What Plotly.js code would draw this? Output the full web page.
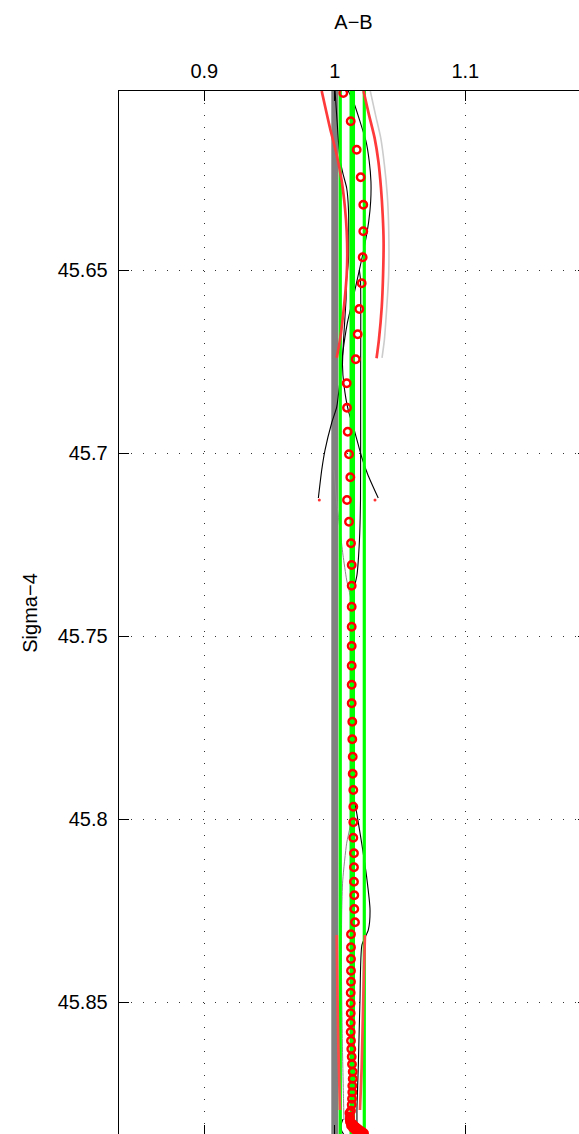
<!DOCTYPE html>
<html>
<head>
<meta charset="utf-8">
<script src="https://cdn.plot.ly/plotly-3.0.1.min.js"></script>
<style>
html,body{margin:0;padding:0;overflow:hidden;background:#fff;}
#chart{width:628px;height:1175px;}
</style>
</head>
<body>
<div id="chart"></div>
<script>
// ---- data ----
var xTickVals = [0.9, 1, 1.1];
var xTickText = ['0.9', '1', '1.1'];
var yTickVals = [45.65, 45.7, 45.75, 45.8, 45.85];
var yTickText = ['45.65', '45.7', '45.75', '45.8', '45.85'];
var xRange = [0.83464, 1.19403];
var yRange = [45.88634, 45.60109];

var refX = 1.0;              // gray reference line
var bandMean = 1.0134;       // thick green
var bandLow = 1.0042;        // thin green
var bandHigh = 1.0226;       // thin green

// red open circles
var obsX = [1.00651,1.01218,1.01678,1.01985,1.02184,1.02184,1.02138,1.02061,1.01877,1.01755,
  1.01602,1.00912,1.00935,1.00989,1.01088,1.01188,1.00935,1.01088,1.01241,1.01295,
  1.01295,1.01295,1.01295,1.01295,1.01295,1.01295,1.01295,1.01341,1.01341,1.01372,
  1.01372,1.01418,1.01418,1.01418,1.01418,1.01471,1.01471,1.01471,1.01494,1.01494,
  1.01548,1.01241,1.01241,1.01241,1.01241,1.01241,1.01218,1.01218,1.01218,1.01218,
  1.01218,1.01241,1.01264,1.01295,1.01318,1.01372,1.01372,1.01341,1.01341,1.01318,
  1.01295,1.01241,1.01165,1.01165,1.01241,1.01395,1.01586,1.01778,1.01969,1.02161,
  1.01126,1.01149,1.01203,1.01318,1.01433,1.01548,1.01663,1.01778,1.01893,1.02008,1.02123,1.02238];
var obsY = [45.60164,45.60937,45.61713,45.62467,45.63216,45.63943,45.64653,45.65363,45.66066,45.66757,
  45.67440,45.68096,45.68762,45.69418,45.70036,45.70664,45.71284,45.71877,45.72467,45.73060,
  45.73626,45.74199,45.74746,45.75273,45.75811,45.76330,45.76839,45.77342,45.77822,45.78298,
  45.78762,45.79208,45.79664,45.80090,45.80511,45.80937,45.81320,45.81713,45.82085,45.82459,
  45.82822,45.83150,45.83505,45.83825,45.84145,45.84445,45.84746,45.85035,45.85309,45.85566,
  45.85820,45.86057,45.86284,45.86495,45.86702,45.86904,45.87096,45.87287,45.87467,45.87642,
  45.87806,45.87970,45.88134,45.88270,45.88374,45.88443,45.88497,45.88538,45.88566,45.88593,
  45.88033,45.88197,45.88265,45.88320,45.88361,45.88402,45.88437,45.88470,45.88503,45.88530,45.88557,45.88585];

// red lines, upper profile
var redUpLeftX = [0.98996,0.99632,1.00146,1.00529,1.00782,1.00912,1.00958,1.00912,1.00705,1.00398,1.00146];
var redUpLeftY = [45.6011,45.6112,45.6185,45.6257,45.6331,45.6393,45.6458,45.6513,45.6600,45.6691,45.6740];
var redUpRightX = [1.0220,1.0262,1.0305,1.0334,1.0354,1.0367,1.0374,1.0370,1.0360,1.0338,1.0320];
var redUpRightY = [45.6011,45.6076,45.6139,45.6203,45.6276,45.6349,45.6422,45.6513,45.6600,45.6691,45.6741];
// light gray, upper profile
var lgUpRightX = [1.0272,1.0312,1.0352,1.0380,1.0402,1.0413,1.0413,1.0397,1.0380,1.0362];
var lgUpRightY = [45.6011,45.6076,45.6139,45.6212,45.6294,45.6385,45.6513,45.6609,45.6691,45.6740];
// black lines crossing
var blackAX = [1.0103,1.0142,1.0193,1.0239,1.0264,1.0277,1.0275,1.0260,1.0239,1.0214,1.0188,1.0142,1.0096,1.0061,1.0040,1.0015,0.9976,0.9925,0.9900,0.9874];
var blackAY = [45.6011,45.6039,45.6094,45.6148,45.6203,45.6258,45.6312,45.6367,45.6413,45.6458,45.6500,45.6574,45.6645,45.6727,45.6801,45.6874,45.6918,45.6992,45.7046,45.7123];
var blackBX = [1.0002,1.0017,1.0040,1.0065,1.0091,1.0105,1.0105,1.0090,1.0086,1.0067,1.0059,1.0070,1.0103,1.0155,1.0206,1.0254,1.0333];
var blackBY = [45.6011,45.6090,45.6199,45.6240,45.6276,45.6336,45.6473,45.6527,45.6582,45.6691,45.6760,45.6814,45.6883,45.6945,45.7011,45.7060,45.7123];
var endDotX = [0.98812, 1.0308];
var endDotY = [45.71284, 45.71284];
// long thin black line
var blackCX = [1.0188,1.0197,1.0198,1.0197,1.0189,1.0170,1.0139,1.0136,1.0142,1.0168,1.0206,1.0244,1.0270,1.0257,1.0208,1.0193,1.0180,1.0170,1.0170];
var blackCY = [45.6500,45.6527,45.6801,45.7128,45.7238,45.7333,45.7388,45.7675,45.7929,45.7984,45.8066,45.8158,45.8249,45.8303,45.8344,45.8495,45.8678,45.8787,45.8836];
// thin gray line
var grayLX = [0.9994,1.0017,1.0040,1.0063,1.0091,1.0124,1.0132,1.0132,1.0116,1.0091,1.0061,1.0053,1.0051,1.0059,1.0067,1.0070];
var grayLY = [45.7046,45.7142,45.7210,45.7279,45.7347,45.7402,45.7675,45.7921,45.8022,45.8066,45.8167,45.8257,45.8413,45.8631,45.8768,45.8822];
// red lines, lower profile
var redLowLeftX = [1.0015,1.0021,1.0028,1.0036,1.0040];
var redLowLeftY = [45.8317,45.8495,45.8631,45.8740,45.8795];
var redLowRightX = [1.0231,1.0218,1.0206,1.0193];
var redLowRightY = [45.8317,45.8495,45.8678,45.8795];
// small black bit at the bottom
var blackDX = [1.0063,1.0048,1.0051,1.0067];
var blackDY = [45.8820,45.8836,45.8850,45.8861];

var yTop = yRange[1], yBot = yRange[0];
function line(x, y, color, width) {
  return {type:'scatter', mode:'lines', x:x, y:y, line:{color:color, width:width, shape:'spline', smoothing:0.6}, hoverinfo:'skip', showlegend:false};
}
function vline(xv, color, width) {
  return {type:'scatter', mode:'lines', x:[xv, xv], y:[yTop, yBot], line:{color:color, width:width}, hoverinfo:'skip', showlegend:false};
}

var traces = [
  vline(refX, '#808080', 7),
  line(grayLX, grayLY, '#8c8c8c', 1),
  line(blackAX, blackAY, '#000000', 1.1),
  line(blackBX, blackBY, '#000000', 1.1),
  line(blackCX, blackCY, '#000000', 1.1),
  line(blackDX, blackDY, '#000000', 1.1),
  vline(bandLow, '#00ff00', 3.2),
  vline(bandHigh, '#00ff00', 3.2),
  vline(bandMean, '#00ff00', 5.5),
  line(lgUpRightX, lgUpRightY, '#cccccc', 1.6),
  line(redUpLeftX, redUpLeftY, '#ff3a3a', 2.7),
  line(redUpRightX, redUpRightY, '#ff3a3a', 2.7),
  line(redLowLeftX, redLowLeftY, '#ff4a4a', 2.7),
  line(redLowRightX, redLowRightY, '#ff4a4a', 2.7),
  {type:'scatter', mode:'markers', x:obsX, y:obsY, marker:{symbol:'circle-open', size:7.5, color:'#ff0000', line:{width:2.4, color:'#ff0000'}}, hoverinfo:'skip', showlegend:false},
  {type:'scatter', mode:'markers', x:endDotX, y:endDotY, marker:{symbol:'circle', size:3, color:'#ff3030'}, hoverinfo:'skip', showlegend:false}
];

var fontFam = '"Liberation Sans", Arial, Helvetica, sans-serif';
var layout = {
  width: 628, height: 1175,
  margin: {l:119, r:40, t:91, b:40},
  paper_bgcolor:'#ffffff', plot_bgcolor:'#ffffff',
  font:{family:fontFam, size:20, color:'#000'},
  showlegend:false,
  xaxis:{
    range:xRange, side:'top', tickmode:'array', tickvals:xTickVals, ticktext:xTickText,
    ticks:'inside', ticklen:10, tickwidth:1, tickcolor:'#000',
    showline:true, linecolor:'#000', linewidth:1.3, mirror:'ticks',
    showgrid:true, gridcolor:'#333', gridwidth:1, griddash:'1px,11px',
    zeroline:false, tickfont:{family:fontFam, size:20, color:'#000'},
    ticklabelstandoff:4,
    title:{text:'A\u2212B', font:{family:fontFam, size:20, color:'#000'}, standoff:24}
  },
  yaxis:{
    range:yRange, tickmode:'array', tickvals:yTickVals, ticktext:yTickText,
    ticks:'inside', ticklen:10, tickwidth:1, tickcolor:'#000',
    showline:true, linecolor:'#000', linewidth:1.3, mirror:'ticks',
    showgrid:true, gridcolor:'#333', gridwidth:1, griddash:'1px,11px',
    zeroline:false, tickfont:{family:fontFam, size:20, color:'#000'},
    ticklabelstandoff:6,
    title:{text:'Sigma\u22124', font:{family:fontFam, size:20, color:'#000'}, standoff:14}
  }
};
Plotly.newPlot('chart', traces, layout, {displayModeBar:false, staticPlot:true});
</script>
</body>
</html>
